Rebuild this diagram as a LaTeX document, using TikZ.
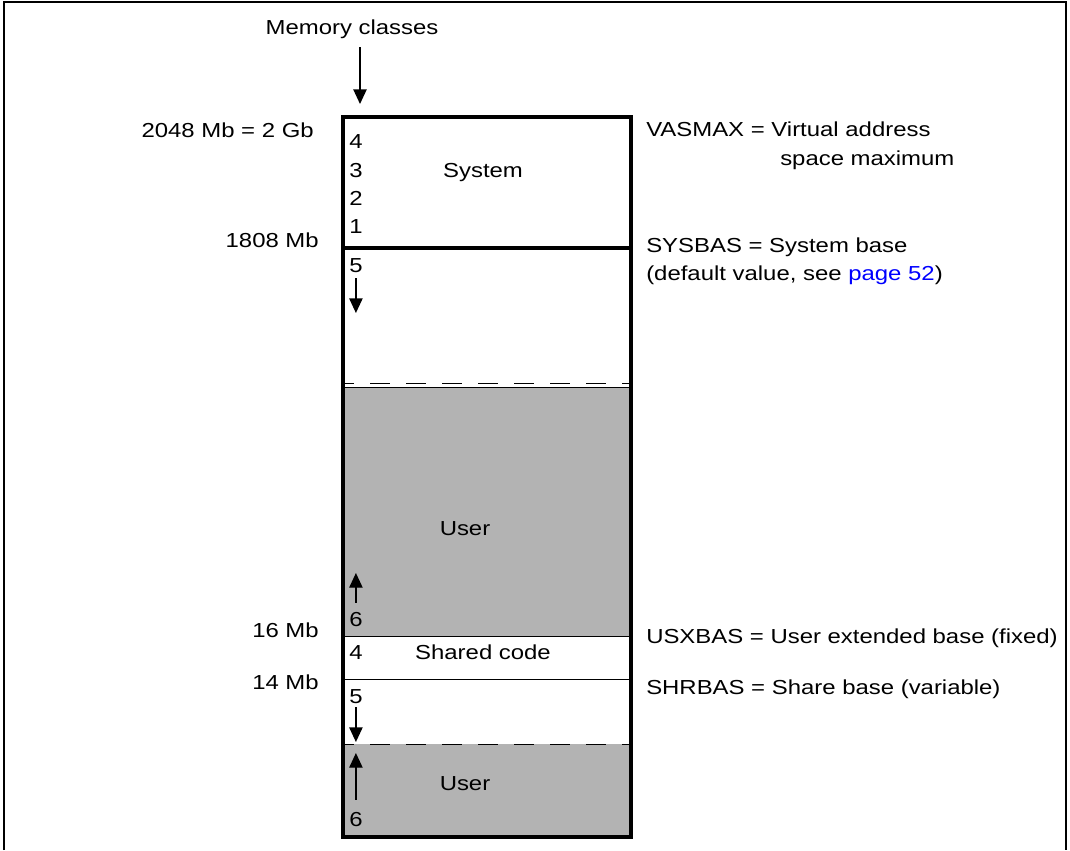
\documentclass[tikz,border=0pt]{standalone}
\usepackage{fontspec}
\setmainfont{Liberation Sans}[FakeStretch=1.18]
\usetikzlibrary{arrows.meta}
\definecolor{usergray}{RGB}{179,179,179}
\definecolor{linkblue}{RGB}{0,0,255}
\begin{document}
\begin{tikzpicture}
[x=0.75pt,y=-0.75pt,%
  every node/.style={inner sep=0pt,font=\fontsize{15.2}{18}\selectfont},%
  lbl/.style={anchor=base west},%
  rlbl/.style={anchor=base east},%
  mid/.style={anchor=base},%
  arr/.style={-{Triangle[length=11pt,width=10pt]},line width=1pt},%
  thinline/.style={line width=0.75pt},%
  gapline/.style={line width=0.75pt,dash pattern=on 15pt off 12pt,dash phase=8.25pt}]
\useasboundingbox (0,0) rectangle (1070,850);
\draw[line width=1pt] (4,850) -- (4,2) -- (1066,2) -- (1066,850);
\fill[usergray] (343,387) rectangle (631,636);
\fill[usergray] (343,744) rectangle (631,837);
\draw[thinline] (343,387) -- (631,387);
\draw[thinline] (343,636) -- (631,636);
\draw[thinline] (343,679) -- (631,679);
\draw[gapline] (345,383) -- (629,383);
\draw[gapline] (345,744) -- (629,744);
\draw[line width=3pt] (343,248) -- (631,248);
\draw[line width=3pt] (343,117) rectangle (631,837);
\node[mid] (mem) at (352,34) {Memory classes};
\coordinate (memtip) at (360,104);
\draw[arr,shorten <=6.75pt] (mem.south -| memtip) -- (memtip);
\node[rlbl] (vasmaxmb) at (314,137) {2048 Mb = 2 Gb};
\node[rlbl] (sysbasmb) at (319,247) {1808 Mb};
\node[rlbl] (usxbasmb) at (319,637) {16 Mb};
\node[rlbl] (shrbasmb) at (319,689) {14 Mb};
\node[lbl] (vasmax) at (646,136) {VASMAX = Virtual address};
\node[lbl] (vasmax2) at (780,165) {space maximum};
\node[lbl] (sysbas) at (646,252) {SYSBAS = System base};
\node[lbl] (sysbas2) at (646,280) {(default value, see \textcolor{linkblue}{page 52})};
\node[lbl] (usxbas) at (646,643) {USXBAS = User extended base (fixed)};
\node[lbl] (shrbas) at (646,694) {SHRBAS = Share base (variable)};
\foreach \n/\y in {4/148,3/177,2/205,1/233}
  \node[lbl] (sys\n) at (349,\y) {\n};
\node[mid] (system) at (483,177) {System};
\node[lbl] (c5a) at (349,272) {5};
\coordinate (tip5a) at (355,313);
\draw[arr,shorten <=4.5pt] (c5a.south) -- (c5a.south |- tip5a);
\node[mid] (user) at (465,535) {User};
\node[lbl] (c6a) at (349,626) {6};
\coordinate (tip6a) at (355,573);
\draw[arr,shorten <=6.75pt] (c6a.north) -- (c6a.north |- tip6a);
\node[lbl] (c4b) at (349,659) {4};
\node[mid] (shared) at (483,659) {Shared code};
\node[lbl] (c5b) at (349,703) {5};
\coordinate (tip5b) at (355,742);
\draw[arr,shorten <=3pt] (c5b.south) -- (c5b.south |- tip5b);
\node[mid] (user2) at (465,790) {User};
\node[lbl] (c6b) at (349,826) {6};
\coordinate (tip6b) at (355,753);
\draw[arr,shorten <=9pt] (c6b.north) -- (c6b.north |- tip6b);
\end{tikzpicture}
\end{document}
